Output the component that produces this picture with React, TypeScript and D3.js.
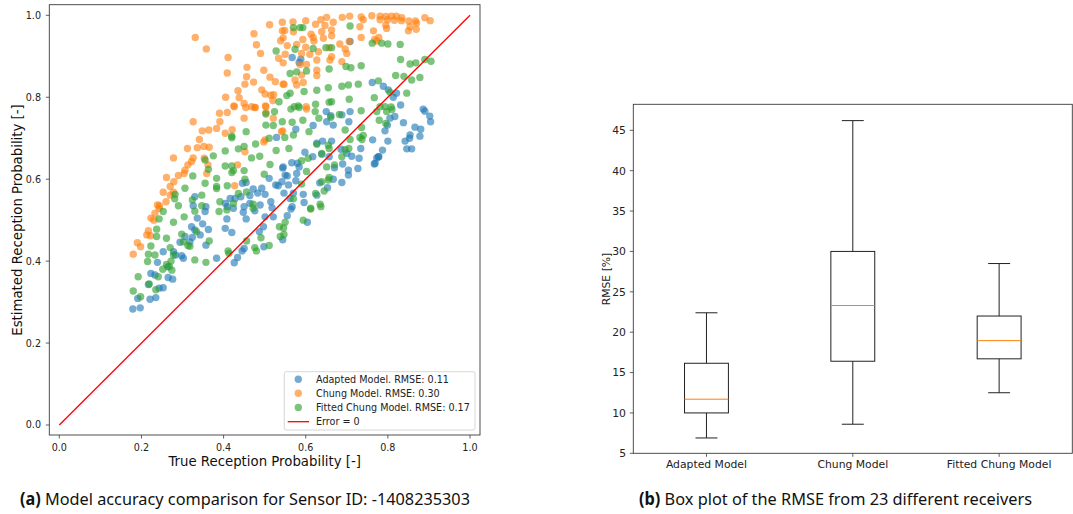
import React from "react";
import * as d3 from "d3";

// ---------- Data ----------
const adaptedPoints: [number, number][] = [
  [0.179,0.283],[0.197,0.286],[0.191,0.309],[0.221,0.307],[0.235,0.311],[0.243,0.334],[0.253,0.335],[0.217,0.343],[0.223,0.370],[0.233,0.366],[0.265,0.360],[0.276,0.356],[0.239,0.397],[0.264,0.386],[0.253,0.423],[0.278,0.423],[0.283,0.415],[0.298,0.413],[0.302,0.407],[0.383,0.407],[0.426,0.396],[0.434,0.409],[0.445,0.425],[0.294,0.446],[0.306,0.460],[0.324,0.458],[0.318,0.447],[0.322,0.484],[0.330,0.476],[0.349,0.491],[0.336,0.505],[0.343,0.464],[0.357,0.439],[0.363,0.477],[0.355,0.521],[0.408,0.503],[0.404,0.480],[0.420,0.470],[0.448,0.519],[0.455,0.503],[0.476,0.523],[0.501,0.508],[0.497,0.484],[0.487,0.472],[0.450,0.431],[0.498,0.435],[0.521,0.508],[0.564,0.527],[0.555,0.511],[0.604,0.495],[0.544,0.452],
  [0.529,0.702],[0.544,0.627],[0.511,0.602],[0.527,0.586],[0.533,0.584],[0.455,0.592],[0.446,0.590],[0.472,0.576],[0.493,0.578],[0.483,0.566],[0.501,0.563],[0.464,0.560],[0.442,0.557],[0.428,0.553],[0.416,0.553],[0.404,0.541],[0.409,0.533],[0.424,0.529],[0.450,0.533],[0.464,0.541],[0.489,0.537],[0.515,0.545],[0.518,0.530],[0.330,0.557],[0.357,0.533],[0.326,0.535],
  [0.890,0.766],[0.902,0.754],[0.904,0.740],[0.866,0.727],[0.880,0.722],[0.878,0.705],[0.854,0.708],[0.853,0.700],[0.842,0.693],[0.846,0.674],[0.858,0.674],[0.838,0.738],[0.817,0.753],[0.805,0.749],[0.799,0.732],[0.793,0.718],[0.800,0.693],[0.787,0.671],[0.778,0.655],[0.773,0.652],[0.767,0.637],[0.763,0.696],[0.734,0.675],[0.730,0.651],[0.727,0.626],[0.708,0.765],[0.705,0.740],[0.688,0.757],[0.667,0.732],[0.651,0.740],[0.661,0.755],[0.650,0.765],[0.618,0.731],[0.576,0.722],[0.641,0.693],[0.627,0.688],[0.663,0.693],[0.686,0.673],[0.700,0.663],[0.712,0.656],[0.690,0.637],[0.704,0.622],[0.704,0.610],[0.688,0.592],[0.670,0.628],[0.657,0.655],[0.639,0.661],[0.617,0.655],[0.598,0.666],[0.580,0.639],[0.566,0.640],[0.584,0.630],[0.578,0.614],[0.550,0.610],[0.555,0.608],[0.545,0.630],[0.542,0.594],[0.558,0.586],[0.576,0.596],[0.570,0.566],[0.594,0.563],[0.596,0.543],[0.627,0.561],[0.634,0.591],[0.653,0.579],[0.667,0.600],[0.547,0.566],[0.562,0.553],[0.567,0.533],
  [0.567,0.897],[0.588,0.893],[0.584,0.885],[0.708,0.936],[0.762,0.836],[0.789,0.827],[0.801,0.818],[0.821,0.810],[0.831,0.781],[0.886,0.771],[0.769,0.639],[0.777,0.655],[0.813,0.800]
];

const chungPoints: [number, number][] = [
  [0.331,0.946],[0.358,0.918],[0.411,0.897],[0.409,0.859],[0.457,0.873],[0.456,0.850],[0.452,0.832],[0.473,0.837],[0.474,0.955],[0.480,0.928],[0.490,0.907],[0.512,0.977],[0.543,0.983],[0.543,0.962],[0.545,0.945],[0.539,0.938],[0.534,0.895],[0.545,0.884],[0.498,0.866],[0.513,0.849],[0.526,0.838],[0.545,0.832],[0.435,0.816],[0.438,0.799],[0.405,0.800],[0.425,0.779],[0.450,0.785],[0.468,0.777],[0.477,0.775],[0.493,0.818],[0.501,0.808],[0.515,0.805],[0.522,0.806],[0.520,0.792],[0.502,0.779],
  [0.761,0.999],[0.781,0.998],[0.795,0.997],[0.809,0.998],[0.821,0.998],[0.834,0.994],[0.851,0.986],[0.867,0.986],[0.890,0.994],[0.903,0.987],[0.781,0.989],[0.799,0.989],[0.816,0.988],[0.833,0.987],[0.795,0.976],[0.797,0.968],[0.854,0.972],[0.869,0.966],[0.850,0.962],[0.735,0.996],[0.740,0.989],[0.707,0.998],[0.689,0.995],[0.651,0.995],[0.637,0.989],[0.600,0.987],[0.569,0.984],[0.624,0.978],[0.647,0.975],[0.663,0.964],[0.667,0.983],[0.732,0.972],[0.765,0.962],[0.778,0.946],[0.773,0.937],[0.735,0.946],[0.706,0.936],[0.683,0.930],[0.663,0.950],[0.639,0.960],[0.613,0.954],[0.618,0.946],[0.593,0.941],[0.570,0.960],[0.549,0.963],[0.555,0.926],[0.578,0.929],[0.600,0.922],[0.620,0.937],[0.643,0.944],[0.657,0.921],[0.631,0.911],[0.610,0.905],[0.590,0.907],[0.550,0.905],[0.663,0.899],[0.700,0.907],[0.696,0.918],[0.627,0.891],[0.602,0.880],[0.586,0.880],[0.659,0.891],[0.688,0.887],[0.627,0.866],[0.627,0.853],[0.590,0.854],[0.574,0.842],[0.547,0.832],[0.578,0.830],[0.594,0.836],[0.601,0.777],[0.870,0.981],[0.768,0.941],
  [0.602,0.771],[0.544,0.718],[0.521,0.749],[0.541,0.716],[0.501,0.696],
  [0.326,0.740],[0.348,0.718],[0.364,0.720],[0.383,0.724],[0.391,0.740],[0.390,0.761],[0.409,0.763],[0.426,0.777],[0.454,0.775],[0.476,0.775],[0.503,0.777],[0.503,0.762],[0.450,0.749],[0.421,0.721],[0.404,0.712],[0.341,0.697],[0.336,0.677],[0.352,0.680],[0.365,0.678],[0.312,0.675],[0.326,0.652],[0.322,0.643],[0.313,0.635],[0.306,0.622],[0.304,0.614],[0.290,0.609],[0.278,0.652],[0.261,0.604],[0.279,0.594],[0.270,0.582],[0.278,0.568],[0.270,0.561],[0.253,0.568],[0.260,0.545],[0.239,0.537],[0.244,0.535],[0.353,0.651],[0.434,0.635],[0.452,0.667],[0.427,0.584],[0.498,0.691],[0.362,0.635],[0.359,0.614],
  [0.233,0.517],[0.243,0.529],[0.223,0.505],[0.230,0.500],[0.217,0.474],[0.213,0.464],[0.222,0.462],[0.190,0.445],[0.198,0.435],[0.180,0.417]
];

const fittedPoints: [number, number][] = [
  [0.528,0.913],[0.535,0.789],[0.570,0.970],[0.586,0.970],[0.593,0.970],[0.708,0.974],[0.574,0.917],[0.618,0.919],[0.649,0.921],[0.663,0.921],[0.562,0.858],[0.578,0.862],[0.602,0.864],[0.657,0.869],[0.698,0.875],[0.710,0.872],[0.735,0.877],[0.762,0.932],[0.785,0.932],[0.800,0.930],[0.830,0.929],[0.831,0.892],[0.854,0.881],[0.868,0.884],[0.890,0.892],[0.905,0.888],[0.819,0.853],[0.839,0.851],[0.858,0.842],[0.878,0.848],[0.777,0.840],[0.728,0.832],[0.704,0.830],[0.688,0.827],[0.655,0.823],[0.627,0.817],[0.596,0.814],[0.562,0.810],[0.554,0.804],[0.805,0.812],[0.846,0.810],[0.767,0.799],[0.706,0.795],[0.663,0.789],[0.657,0.788],[0.624,0.783],[0.582,0.779],[0.572,0.777],[0.793,0.777],[0.808,0.776],
  [0.524,0.765],[0.503,0.759],[0.503,0.732],[0.521,0.731],[0.543,0.740],[0.455,0.716],[0.420,0.705],[0.420,0.701],[0.450,0.680],[0.436,0.674],[0.478,0.686],[0.528,0.670],[0.511,0.700],[0.404,0.669],[0.375,0.657],[0.355,0.647],[0.468,0.652],[0.488,0.656],[0.513,0.636],[0.404,0.632],[0.420,0.632],[0.424,0.621],[0.420,0.616],[0.450,0.621],[0.452,0.600],[0.383,0.602],[0.363,0.624],[0.325,0.608],[0.306,0.578],[0.355,0.590],[0.383,0.582],[0.383,0.577],[0.409,0.584],[0.436,0.565],[0.456,0.569],[0.472,0.539],[0.347,0.561],[0.324,0.549],[0.282,0.563],[0.281,0.552],[0.290,0.535],[0.347,0.535],[0.391,0.545],[0.424,0.541],[0.499,0.612],
  [0.564,0.771],[0.584,0.775],[0.623,0.765],[0.661,0.751],[0.682,0.758],[0.593,0.744],[0.567,0.739],[0.549,0.702],[0.570,0.708],[0.608,0.716],[0.632,0.749],[0.696,0.720],[0.708,0.697],[0.705,0.675],[0.696,0.672],[0.688,0.655],[0.657,0.675],[0.627,0.685],[0.559,0.675],[0.606,0.651],[0.590,0.645],[0.651,0.630],[0.670,0.635],[0.602,0.619],[0.657,0.604],[0.655,0.598],[0.639,0.594],[0.590,0.588],[0.645,0.571],[0.624,0.565],[0.635,0.539],[0.612,0.529],[0.570,0.552],[0.736,0.726],[0.732,0.702],[0.740,0.707],[0.781,0.777],[0.797,0.765],[0.810,0.770],[0.779,0.744],[0.795,0.736],[0.735,0.767],[0.639,0.663],[0.655,0.683],[0.737,0.697],[0.773,0.765],
  [0.243,0.503],[0.253,0.521],[0.278,0.495],[0.304,0.508],[0.237,0.478],[0.261,0.456],[0.237,0.460],[0.223,0.437],[0.217,0.417],[0.233,0.415],[0.215,0.399],[0.270,0.433],[0.278,0.415],[0.272,0.400],[0.261,0.392],[0.268,0.387],[0.252,0.380],[0.274,0.378],[0.241,0.362],[0.192,0.362],[0.219,0.344],[0.180,0.327],[0.198,0.313],[0.235,0.330],[0.330,0.403],[0.357,0.397],[0.330,0.522],[0.302,0.447],[0.313,0.438],[0.318,0.436],[0.298,0.466],[0.334,0.472],[0.365,0.449],[0.389,0.521],[0.408,0.525],[0.472,0.529],[0.411,0.425],[0.413,0.419],[0.456,0.449],[0.476,0.433],[0.491,0.457],[0.511,0.438],[0.536,0.484],[0.538,0.460],[0.480,0.425],[0.550,0.495],[0.546,0.481],[0.547,0.465],[0.594,0.500],[0.612,0.527],[0.637,0.533]
];

const scatterSeries = [
  { name: "Adapted Model. RMSE: 0.11", color: "#1f77b4", points: adaptedPoints },
  { name: "Chung Model. RMSE: 0.30", color: "#ff7f0e", points: chungPoints },
  { name: "Fitted Chung Model. RMSE: 0.17", color: "#2ca02c", points: fittedPoints },
];
const errorLineLabel = "Error = 0";
const errorLine: [number, number][] = [[0, 0], [1, 1]];
const scatterTicks = [0, 0.2, 0.4, 0.6, 0.8, 1.0];

const boxCategories = ["Adapted Model", "Chung Model", "Fitted Chung Model"];
const whiskerLow = [6.9, 8.6, 12.5];
const q1 = [10.0, 16.4, 16.7];
const median = [11.7, 23.3, 18.95];
const q3 = [16.15, 30.0, 22.0];
const whiskerHigh = [22.4, 46.2, 28.5];
const boxTicks = [5, 10, 15, 20, 25, 30, 35, 40, 45];

const FONT = "'DejaVu Sans', sans-serif";
const AX = "#3a3a3a";

export default function App() {
  // Left panel
  const L = { left: 49.3, right: 480, top: 4.7, bottom: 435 };
  const x = d3.scaleLinear().domain([0, 1]).range([59.3, 470]);
  const y = d3.scaleLinear().domain([0, 1]).range([425, 15.3]);
  const line = d3.line<[number, number]>().x((d) => x(d[0])).y((d) => y(d[1]));

  // Right panel
  const R = { left: 633.3, right: 1072.3, top: 104.3, bottom: 453.3 };
  const xr = d3.scaleLinear().domain([0.5, 3.5]).range([R.left, R.right]);
  const yr = d3.scaleLinear().domain([5, 45]).range([453.3, 130.3]);
  const boxHalf = xr(0.15) - xr(0);
  const capHalf = boxHalf / 2;

  const legendRows = [379.3, 393.3, 407.5, 421.7];

  return (
    <svg width={1073} height={514} style={{ position: "absolute", left: 0, top: 0, background: "#fff" }}>
      <rect x={0} y={0} width={1073} height={514} fill="#fff" />
      {/* ---------- Left scatter ---------- */}
      <g>
        {scatterSeries.map((s) => (
          <g key={s.name}>
            {s.points.map((p, i) => (
              <circle key={i} cx={x(p[0])} cy={y(p[1])} r={3.7} fill={s.color} fillOpacity={0.62} />
            ))}
          </g>
        ))}
        <path d={line(errorLine) || ""} stroke="#ff0000" strokeWidth={1.3} fill="none" />
        <rect x={L.left} y={L.top} width={L.right - L.left} height={L.bottom - L.top} fill="none" stroke={AX} strokeWidth={0.9} />
        {scatterTicks.map((t) => (
          <g key={"xt" + t}>
            <line x1={x(t)} x2={x(t)} y1={L.bottom} y2={L.bottom + 3.5} stroke={AX} strokeWidth={0.8} />
            <text x={x(t)} y={451} textAnchor="middle" fontFamily={FONT} fontSize={9.6} fill="#222">{t.toFixed(1)}</text>
          </g>
        ))}
        {scatterTicks.map((t) => (
          <g key={"yt" + t}>
            <line x1={L.left - 3.5} x2={L.left} y1={y(t)} y2={y(t)} stroke={AX} strokeWidth={0.8} />
            <text x={41} y={y(t)} dy="0.36em" textAnchor="end" fontFamily={FONT} fontSize={9.6} fill="#222">{t.toFixed(1)}</text>
          </g>
        ))}
        <text x={264.7} y={466} textAnchor="middle" fontFamily={FONT} fontSize={13.3} fill="#111">True Reception Probability [-]</text>
        <text transform={`translate(22,220) rotate(-90)`} textAnchor="middle" fontFamily={FONT} fontSize={13.3} fill="#111">Estimated Reception Probability [-]</text>
        {/* legend */}
        <rect x={284.3} y={371.7} width={190.7} height={58.3} rx={2} fill="#fff" fillOpacity={0.8} stroke="#cccccc" strokeWidth={0.8} />
        {scatterSeries.map((s, i) => (
          <g key={"lg" + i}>
            <circle cx={298.3} cy={legendRows[i]} r={3.7} fill={s.color} fillOpacity={0.62} />
            <text x={316} y={legendRows[i]} dy="0.36em" fontFamily={FONT} fontSize={9.6} fill="#222">{s.name}</text>
          </g>
        ))}
        <line x1={287.7} x2={309} y1={legendRows[3]} y2={legendRows[3]} stroke="#ff0000" strokeWidth={1.3} />
        <text x={316} y={legendRows[3]} dy="0.36em" fontFamily={FONT} fontSize={9.6} fill="#222">{errorLineLabel}</text>
      </g>

      {/* ---------- Right box plot ---------- */}
      <g>
        <rect x={R.left} y={R.top} width={R.right - R.left} height={R.bottom - R.top} fill="none" stroke={AX} strokeWidth={0.9} />
        {boxCategories.map((c, i) => {
          const cx = xr(i + 1);
          return (
            <g key={c}>
              <line x1={cx} x2={cx} y1={yr(whiskerLow[i])} y2={yr(q1[i])} stroke="#222" strokeWidth={1} />
              <line x1={cx} x2={cx} y1={yr(q3[i])} y2={yr(whiskerHigh[i])} stroke="#222" strokeWidth={1} />
              <line x1={cx - capHalf} x2={cx + capHalf} y1={yr(whiskerLow[i])} y2={yr(whiskerLow[i])} stroke="#222" strokeWidth={1} />
              <line x1={cx - capHalf} x2={cx + capHalf} y1={yr(whiskerHigh[i])} y2={yr(whiskerHigh[i])} stroke="#222" strokeWidth={1} />
              <rect x={cx - boxHalf} y={yr(q3[i])} width={boxHalf * 2} height={yr(q1[i]) - yr(q3[i])} fill="none" stroke="#222" strokeWidth={1} />
              <line x1={cx - boxHalf} x2={cx + boxHalf} y1={yr(median[i])} y2={yr(median[i])} stroke="#ff7f0e" strokeWidth={1} />
              <line x1={cx} x2={cx} y1={R.bottom} y2={R.bottom + 3.5} stroke={AX} strokeWidth={0.8} />
              <text x={cx} y={468} textAnchor="middle" fontFamily={FONT} fontSize={10.8} fill="#222">{c}</text>
            </g>
          );
        })}
        {boxTicks.map((t) => (
          <g key={"ry" + t}>
            <line x1={R.left - 3.5} x2={R.left} y1={yr(t)} y2={yr(t)} stroke={AX} strokeWidth={0.8} />
            <text x={626} y={yr(t)} dy="0.36em" textAnchor="end" fontFamily={FONT} fontSize={10.8} fill="#222">{t}</text>
          </g>
        ))}
        <text transform={`translate(609.5,279) rotate(-90)`} textAnchor="middle" fontFamily={FONT} fontSize={10.8} fill="#222">RMSE [%]</text>
      </g>

      {/* ---------- Captions ---------- */}
      <text x={20} y={505} fontFamily="'Noto Sans', 'Open Sans', sans-serif" fontSize={17} fill="#111" textLength={450} lengthAdjust="spacingAndGlyphs">
        <tspan fontWeight="bold">(a)</tspan> Model accuracy comparison for Sensor ID: -1408235303
      </text>
      <text x={639} y={505} fontFamily="'Noto Sans', 'Open Sans', sans-serif" fontSize={17} fill="#111" textLength={393} lengthAdjust="spacingAndGlyphs">
        <tspan fontWeight="bold">(b)</tspan> Box plot of the RMSE from 23 different receivers
      </text>
    </svg>
  );
}
